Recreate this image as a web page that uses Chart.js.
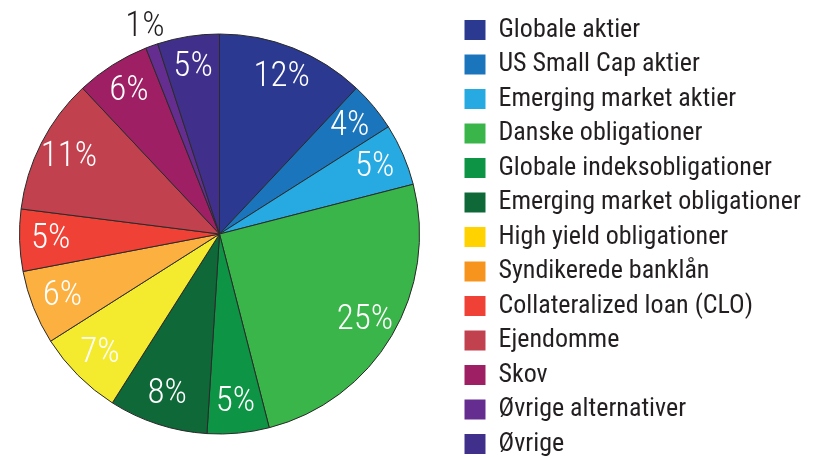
<!DOCTYPE html>
<html>
<head>
<meta charset="utf-8">
<script src="https://cdn.jsdelivr.net/npm/chart.js@4.4.1/dist/chart.umd.min.js"></script>
<style>
  html, body { margin: 0; padding: 0; background: #ffffff; overflow: hidden; }
  #wrap { width: 814px; height: 457px; position: relative; overflow: hidden; }
  #c { position: absolute; left: -17px; top: 0; }
</style>
</head>
<body>
<div id="wrap"><canvas id="c" width="830" height="480"></canvas></div>
<script>
const categories = [
  "Globale aktier",
  "US Small Cap aktier",
  "Emerging market aktier",
  "Danske obligationer",
  "Globale indeksobligationer",
  "Emerging market obligationer",
  "High yield obligationer",
  "Syndikerede banklån",
  "Collateralized loan (CLO)",
  "Ejendomme",
  "Skov",
  "Øvrige alternativer",
  "Øvrige"
];
const values = [12, 4, 5, 25, 5, 8, 7, 6, 5, 11, 6, 1, 5];
const sliceLabels = ["12%", "4%", "5%", "25%", "5%", "8%", "7%", "6%", "5%", "11%", "6%", "1%", "5%"];
const sliceColors = ["#2b3990", "#1b75bc", "#27aae1", "#3ab54a", "#0d9444", "#0f6838", "#f4eb2f", "#fbb040", "#ef4136", "#c2414f", "#9e1f63", "#662d91", "#41308b"];
const legendColors = ["#2b3990", "#1b75bc", "#27aae1", "#3ab54a", "#0d9444", "#0f6838", "#ffd200", "#f7941d", "#ef4136", "#c2414f", "#9e1f63", "#662d91", "#41308b"];

const FONT = "'Roboto Condensed', 'Liberation Sans Narrow', Roboto, 'Liberation Sans', sans-serif";
const TEXT_COLOR = '#231f20';

const sliceLabelPlugin = {
  id: 'sliceLabels',
  afterDatasetsDraw(chart) {
    const ctx = chart.ctx;
    const meta = chart.getDatasetMeta(0);
    ctx.save();
    ctx.font = "300 35px " + FONT;
    ctx.textAlign = 'center';
    ctx.textBaseline = 'middle';
    meta.data.forEach((arc, i) => {
      const p = arc.getProps(['x', 'y', 'startAngle', 'endAngle', 'outerRadius'], true);
      const mid = (p.startAngle + p.endAngle) / 2;
      const small = values[i] < 2;
      const d = p.outerRadius * (small ? 1.1 : 0.845);
      const x = p.x + Math.cos(mid) * d;
      const y = p.y + Math.sin(mid) * d;
      ctx.fillStyle = small ? TEXT_COLOR : '#ffffff';
      ctx.fillText(sliceLabels[i], x, y);
    });
    ctx.restore();
  }
};

new Chart(document.getElementById('c'), {
  type: 'pie',
  data: {
    labels: categories,
    datasets: [{
      data: values,
      backgroundColor: sliceColors,
      borderColor: '#2a2a2a',
      borderWidth: 1
    }]
  },
  options: {
    responsive: false,
    animation: false,
    devicePixelRatio: 1,
    radius: 200,
    layout: { padding: { left: 0, right: 7, top: 0, bottom: 12 } },
    plugins: {
      tooltip: { enabled: false },
      legend: {
        position: 'right',
        align: 'center',
        maxWidth: 350,
        title: { display: true, text: '', font: { size: 6, lineHeight: 1 }, padding: 0 },
        labels: {
          boxWidth: 21,
          boxHeight: 20,
          padding: 8.5,
          color: TEXT_COLOR,
          font: { family: FONT, size: 26, weight: '400' },
          generateLabels(chart) {
            return categories.map((name, i) => ({
              text: name,
              fillStyle: legendColors[i],
              strokeStyle: legendColors[i],
              fontColor: TEXT_COLOR,
              lineWidth: 0,
              hidden: false,
              index: i
            }));
          }
        }
      }
    }
  },
  plugins: [sliceLabelPlugin]
});
</script>
</body>
</html>
